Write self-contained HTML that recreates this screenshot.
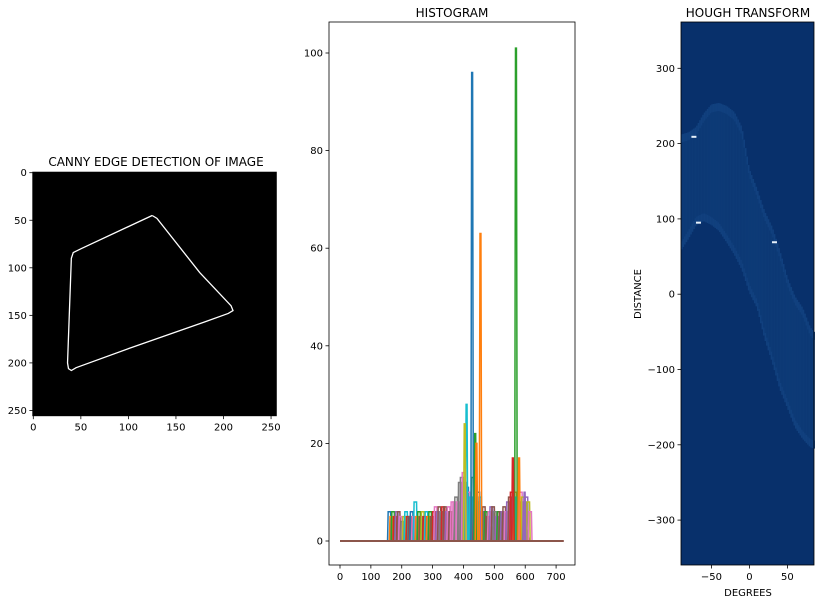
<!DOCTYPE html>
<html><head><meta charset="utf-8">
<style>
body{margin:0;background:#fff;}
svg{display:block;font-family:"DejaVu Sans","Liberation Sans",sans-serif;}
</style></head>
<body>
<svg id="fig" width="823" height="604" viewBox="0 0 823 604">
<rect width="823" height="604" fill="#fff"/>
</svg>
<script>
// ---------- DATA ----------
const edgeX = [125,130,175,208,210,205,180,100,45,40,37,36,40,42,50,125];
const edgeY = [45,48,105,140,145,148,157,185,205,208,206,200,90,84,80,45];
const imgTicks = [0,50,100,150,200,250];

const spikeX = [428,455,570,410,404,438,580,560,442,598];
const spikeH = [96,63,101,28,24,22,17,17,20,10];
const spikeC = [0,1,2,9,8,2,1,3,1,4];
const clutX = [160,166,172,178,184,190,196,202,208,214,220,226,232,238,244,250,256,262,268,274,280,286,292,298,304,310,316,322,328,334,340,346,352,358,364,370,376,382,388,394,400,406,412,418,424,430,436,442,448,454,460,466,472,478,484,490,496,502,508,514,520,526,532,538,544,550,556,562,568,574,580,586,592,598,604,610,616];
const clutH = [6,5,6,5,6,6,5,4,5,6,5,5,6,5,8,5,6,5,6,5,6,5,6,5,6,7,6,7,6,7,7,6,7,6,8,8,9,8,12,13,14,12,11,10,9,13,9,8,10,9,6,7,6,5,6,7,7,6,5,6,6,6,7,6,8,9,10,9,10,9,8,10,9,8,9,8,6];
const clutC = [0,1,2,3,4,5,6,7,8,9,3,5,0,6,9,1,2,5,8,3,9,1,2,5,3,6,4,5,7,3,5,4,6,5,6,6,7,6,7,7,6,7,0,6,9,2,3,5,0,9,4,5,2,5,6,4,5,7,4,2,5,4,5,6,4,5,3,4,1,9,4,6,8,7,4,8,6];
const blockX = [160,200,240,280,320,360,380,400,420,440,460,480,500,520,540,560,580,600,616];
const blockH = [4,4,4,4,5,5,6,6,6,6,4,3,3,4,5,6,6,4,0];
const histXTicks = [0,100,200,300,400,500,600,700];
const histYTicks = [0,20,40,60,80,100];

const houghTheta = [-90,-80,-70,-60,-50,-40,-30,-20,-10,0,10,20,30,40,50,60,70,80,85];
const houghUpper = [212,215,222,240,252,254,250,242,222,166,140,110,89,58,22,-3,-18,-44,-50];
const houghLower = [58,74,92,97,92,84,69,53,33,2,-18,-59,-90,-126,-151,-177,-192,-203,-205];
const spotT = [-73,-67,33];
const spotR = [209,95,69];
const houghXTicks = [-50,0,50];
const houghYTicks = [300,200,100,0,-100,-200,-300];

const tab = ["#1f77b4","#ff7f0e","#2ca02c","#d62728","#9467bd","#8c564b","#e377c2","#7f7f7f","#bcbd22","#17becf"];

const NS="http://www.w3.org/2000/svg";
const svg=document.getElementById('fig');
function mk(tag,attrs,parent){const e=document.createElementNS(NS,tag);for(const k in attrs)e.setAttribute(k,attrs[k]);(parent||svg).appendChild(e);return e;}
function txt(x,y,s,anchor,size,parent){const t=mk('text',{x:x,y:y,'font-size':size||10,'text-anchor':anchor||'middle',fill:'#000'},parent);t.textContent=s;return t;}

// ---------- Panel 1 ----------
const p1=mk('g',{});


const s1=0.951, ox1=33.3, oy1=172.7;
const ix=v=>ox1+v*s1, iy=v=>oy1+v*s1;
const ir=mk('rect',{x:ix(-0.5),y:iy(-0.5),width:256*s1,height:256*s1,fill:'#000',stroke:'#000'},p1);


const ep=mk('polyline',{points:edgeX.map((x,i)=>ix(x)+','+iy(edgeY[i])).join(' '),fill:'none',stroke:'#fff','stroke-width':1.3},p1);


imgTicks.forEach(t=>{
  mk('line',{x1:ix(t),x2:ix(t),y1:iy(255.5),y2:iy(255.5)+3.5,stroke:'#000','stroke-width':0.8},p1);
  txt(ix(t),iy(255.5)+15,String(t),'middle',10,p1);
  mk('line',{x1:ix(-0.5)-3.5,x2:ix(-0.5),y1:iy(t),y2:iy(t),stroke:'#000','stroke-width':0.8},p1);
  txt(ix(-0.5)-6,iy(t)+3.5,String(t),'end',10,p1);
});
const t1=txt(156,166,'CANNY EDGE DETECTION OF IMAGE','middle',12,p1);



// ---------- Panel 2 ----------
const p2=mk('g',{});


const hL=329,hR=575,hT=22,hB=565;
const hx=v=>340+v*0.3087, hy=v=>541-v*4.88;
mk('rect',{x:hL,y:hT,width:hR-hL,height:hB-hT,fill:'#fff'},p2);
const clip=mk('clipPath',{id:'hc'},p2);mk('rect',{x:hL,y:hT,width:hR-hL,height:hB-hT},clip);
const hg=mk('g',{'clip-path':'url(#hc)'},p2);
let bp=blockX.map((x,i)=>hx(x)+','+hy(blockH[i])).join(' ');
const blk=mk('polygon',{points:hx(160)+','+hy(0)+' '+bp+' '+hx(616)+','+hy(0),fill:'#8c564b',opacity:0.85},hg);


clutX.forEach((x,i)=>{
  const h=clutH[i];
  const l=mk('polyline',{points:`${hx(x-6)},${hy(0)} ${hx(x-4)},${hy(h)} ${hx(x+4)},${hy(h)} ${hx(x+6)},${hy(0)}`,fill:'none',stroke:tab[clutC[i]],'stroke-width':1.5},hg);
  
  
});
spikeX.forEach((x,i)=>{
  const h=spikeH[i];
  const l=mk('polyline',{points:`${hx(x-4)},${hy(0)} ${hx(x-1.5)},${hy(h)} ${hx(x+1.5)},${hy(h)} ${hx(x+4)},${hy(0)}`,fill:'none',stroke:tab[spikeC[i]],'stroke-width':1.5},hg);
  
  
});
const fl=mk('line',{x1:hx(0),x2:hx(725),y1:hy(0),y2:hy(0),stroke:'#8c564b','stroke-width':2},hg);


mk('rect',{x:hL,y:hT,width:hR-hL,height:hB-hT,fill:'none',stroke:'#000','stroke-width':0.8},p2);
histXTicks.forEach(t=>{mk('line',{x1:hx(t),x2:hx(t),y1:hB,y2:hB+3.5,stroke:'#000','stroke-width':0.8},p2);txt(hx(t),hB+15,String(t),'middle',10,p2);});
histYTicks.forEach(t=>{mk('line',{x1:hL-3.5,x2:hL,y1:hy(t),y2:hy(t),stroke:'#000','stroke-width':0.8},p2);txt(hL-6,hy(t)+3.5,String(t),'end',10,p2);});
const t2=txt(452,17,'HISTOGRAM','middle',12,p2);



// ---------- Panel 3 ----------
const p3=mk('g',{});


const gL=681,gR=814,gT=22,gB=565;
const gx=v=>749.4+v*0.76, gy=v=>294.2-v*0.753;
const hbg=mk('rect',{x:gL,y:gT,width:gR-gL,height:gB-gT,fill:'#08306b'},p3);


function interp(arr,t){for(let i=0;i<houghTheta.length-1;i++){const a=houghTheta[i],b=houghTheta[i+1];if(t>=a&&t<=b){const f=(t-a)/(b-a);return arr[i]+f*(arr[i+1]-arr[i]);}}return arr[arr.length-1];}
const band=mk('g',{},p3);


for(let t=-90;t<85;t+=2){
  const u=interp(houghUpper,t+1), lo=interp(houghLower,t+1);
  mk('rect',{x:gx(t),y:gy(u),width:0.76*2+0.1,height:gy(lo)-gy(u),fill:'#0d3a76'},band);
  mk('rect',{x:gx(t),y:gy(u),width:0.76*2+0.1,height:8,fill:'#11407e'},band);
  mk('rect',{x:gx(t),y:gy(lo)-8,width:0.76*2+0.1,height:8,fill:'#11407e'},band);
}
spotT.forEach((t,i)=>{
  const s=mk('rect',{x:gx(t)-2.5,y:gy(spotR[i])-1,width:5,height:2,fill:'#e6f0fa'},p3);
  
  
});
mk('rect',{x:gL,y:gT,width:gR-gL,height:gB-gT,fill:'none',stroke:'#000','stroke-width':0.8},p3);
houghXTicks.forEach(t=>{mk('line',{x1:gx(t),x2:gx(t),y1:gB,y2:gB+3.5,stroke:'#000','stroke-width':0.8},p3);txt(gx(t),gB+15,t<0?'\u2212'+(-t):String(t),'middle',10,p3);});
houghYTicks.forEach(t=>{mk('line',{x1:gL-3.5,x2:gL,y1:gy(t),y2:gy(t),stroke:'#000','stroke-width':0.8},p3);txt(gL-6,gy(t)+3.5,t<0?'\u2212'+(-t):String(t),'end',10,p3);});
const t3=txt(748,17,'HOUGH TRANSFORM','middle',12,p3);


const xl=txt(748,596,'DEGREES','middle',10,p3);


const yl=txt(0,0,'DISTANCE','middle',10,p3);
yl.setAttribute('transform','translate(641,294) rotate(-90)');


</script>
</body></html>
